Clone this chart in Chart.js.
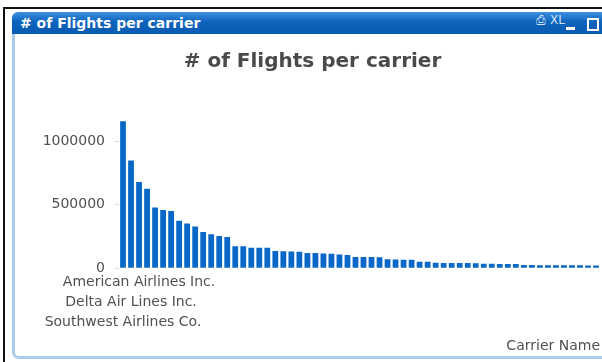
<!DOCTYPE html>
<html>
<head>
<meta charset="utf-8">
<script src="https://cdn.jsdelivr.net/npm/chart.js@4"></script>
<style>
    html, body { margin: 0; padding: 0; background: #fff; }
    body { width: 602px; height: 362px; position: relative; overflow: hidden; font-family: "DejaVu Sans", sans-serif; }
    .frameTop { position: absolute; left: 3px; top: 7px; width: 599px; height: 2px; background: #111; }
    .frameLeft { position: absolute; left: 3px; top: 7px; width: 2px; height: 355px; background: #111; }
    .win { position: absolute; left: 12px; top: 12px; width: 600px; height: 347px; }
    .caption {
        position: absolute; left: 0; top: 0; width: 100%; height: 22px;
        background: linear-gradient(#3d8fe0, #0d63bc 45%, #0a5bb0);
        border-top-left-radius: 6px;
        color: #fff; font: bold 14px "DejaVu Sans", sans-serif; line-height: 22px;
        padding-left: 8px; box-sizing: border-box; white-space: nowrap;
    }
    .icons { position: absolute; left: 522px; top: 1px; height: 22px; font: 12px "DejaVu Sans", sans-serif; color: #cfe3f7; }
    .icons span { position: absolute; top: 0; }
    .minBar { position: absolute; left: 554px; top: 15px; width: 9px; height: 3px; background: #fff; }
    .maxBox { position: absolute; left: 575px; top: 6px; width: 8px; height: 9px; border: 2px solid #fff; }
    .body {
        position: absolute; left: 0; top: 22px; width: 100%; height: 325px;
        border-left: 3px solid #a9cbec; border-bottom: 3px solid #a9cbec;
        border-bottom-left-radius: 7px; box-sizing: border-box; background: #fff;
    }
    #chartBox { position: absolute; left: 14px; top: 34px; width: 597px; height: 323px; }
</style>
</head>
<body>
<div class="frameTop"></div>
<div class="frameLeft"></div>
<div class="win">
    <div class="caption"># of Flights per carrier</div>
    <div class="icons"><span style="left:2px">&#9113;</span><span style="left:16px">XL</span></div>
    <div class="minBar"></div>
    <div class="maxBox"></div>
    <div class="body"></div>
</div>
<div id="chartBox"><canvas id="flightsChart"></canvas></div>

<script>
// Carrier names (only the three shown in the picture are known)
const carriers = [
    'Southwest Airlines Co.', 'Delta Air Lines Inc.', 'American Airlines Inc.',
    ...Array(57).fill('')
];
// Which stacked row each visible label sits in under the axis
const labelRows = [2, 1, 0];

// Number of flights per carrier
const flights = [
    1159000, 849000, 680000, 627000, 479000, 458000, 450000, 373000, 352000, 328000,
    286000, 267000, 254000, 246000, 172000, 172000, 161000, 161000, 161000, 135000,
    133000, 131000, 129000, 119000, 119000, 115000, 113000, 107000, 103000, 87000,
    87000, 87000, 86000, 71000, 69000, 67000, 66000, 50000, 50000, 42000,
    41000, 41000, 40000, 40000, 39000, 34000, 34000, 33000, 33000, 32000,
    24000, 24000, 23000, 23000, 23000, 22000, 22000, 22000, 21000, 21000
];

const yTicks = [0, 500000, 1000000];

const font = 'DejaVu Sans';
const textColor = '#505050';

new Chart(document.getElementById('flightsChart'), {
    type: 'bar',
    data: {
        labels: carriers,
        datasets: [{
            label: '# of Flights',
            data: flights,
            backgroundColor: '#0867c7',
            barPercentage: 0.72,
            categoryPercentage: 1
        }]
    },
    options: {
        responsive: true,
        maintainAspectRatio: false,
        animation: false,
        layout: { padding: 0 },
        plugins: {
            legend: { display: false },
            tooltip: { enabled: false },
            title: {
                display: true,
                text: '# of Flights per carrier',
                color: '#4a4a4a',
                font: { family: font, size: 20, weight: 'bold' },
                padding: { top: 16, bottom: 42 }
            }
        },
        scales: {
            x: {
                // plot stops short of the canvas edge, title still spans it all
                afterFit: (scale) => { scale.paddingRight = 11; },
                grid: { display: false, drawTicks: false },
                border: { display: false },
                ticks: {
                    autoSkip: false,
                    maxRotation: 0,
                    minRotation: 0,
                    padding: 4,
                    color: textColor,
                    font: { family: font, size: 14, lineHeight: 1.43 },
                    callback: function(value, index) {
                        const name = carriers[index];
                        if (!name) return '';
                        return [...Array(labelRows[index]).fill(''), name];
                    }
                },
                title: {
                    display: true,
                    text: 'Carrier Name',
                    align: 'end',
                    color: textColor,
                    font: { family: font, size: 14 },
                    padding: { top: 2, bottom: 2 }
                }
            },
            y: {
                min: 0,
                max: 1200000,
                afterFit: (scale) => { scale.width = 105; },
                afterBuildTicks: (scale) => { scale.ticks = yTicks.map(v => ({ value: v })); },
                grid: { drawOnChartArea: false, drawTicks: true, tickLength: 4, color: '#d8d8d8' },
                border: { display: false },
                ticks: {
                    padding: 10,
                    color: textColor,
                    font: { family: font, size: 14 },
                    callback: (value) => String(value)
                }
            }
        }
    }
});
</script>
</body>
</html>
